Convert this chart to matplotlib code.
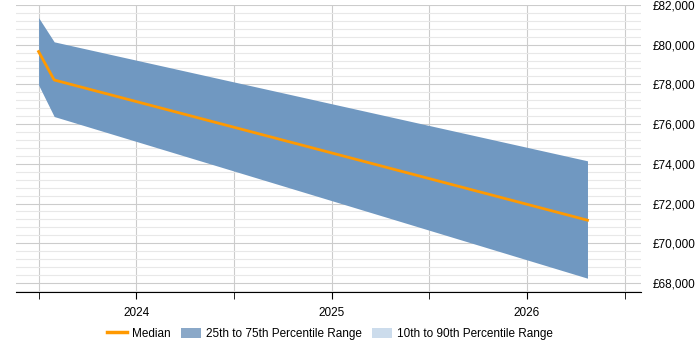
"""Salary trend chart: median with 25th-75th percentile band."""
import matplotlib

matplotlib.use("Agg")
import matplotlib.pyplot as plt  # noqa: E402
from matplotlib.lines import Line2D  # noqa: E402
from matplotlib.patches import Patch  # noqa: E402
from matplotlib.ticker import FuncFormatter, MultipleLocator  # noqa: E402

plt.rcParams["font.family"] = ["Liberation Sans", "DejaVu Sans"]

# fractional years of each data point
dates = [2023.50, 2023.58, 2026.31]
median = [79650, 78220, 71160]
p25 = [77970, 76380, 68240]
p75 = [81360, 80140, 74150]

year_ticks = [2024, 2025, 2026]
half_ticks = [2023.5, 2024.5, 2025.5, 2026.5]

BAND = "#7098c1"
MEDIAN = "#ff9900"
WIDE = "#ccdcec"

fig = plt.figure(figsize=(7, 3.5), dpi=100)
ax = fig.add_axes([0.023, 0.166, 0.893, 0.82])

ax.fill_between(dates, p25, p75, color=BAND, linewidth=0, zorder=2)
ax.plot(dates, median, color=MEDIAN, linewidth=2, zorder=3)

ax.set_xlim(2023.385, 2026.585)
ax.set_ylim(67550, 82000)

ax.set_xticks(year_ticks)
ax.set_xticklabels([str(y) for y in year_ticks])
ax.set_xticks(half_ticks, minor=True)
ax.tick_params(axis="x", which="both", length=5, color="black",
               labelsize=8.5, pad=6)
ax.grid(True, axis="x", which="both", color="#cccccc", linewidth=0.8, zorder=0)

ax.yaxis.set_major_locator(MultipleLocator(2000))
ax.yaxis.set_minor_locator(MultipleLocator(400))
ax.yaxis.set_major_formatter(FuncFormatter(lambda v, _: f"£{v:,.0f}"))
ax.yaxis.tick_right()
ax.tick_params(axis="y", which="both", length=0, labelsize=8.5, pad=8)
ax.grid(True, axis="y", which="major", color="#cccccc", linewidth=0.8, zorder=0)
ax.grid(True, axis="y", which="minor", color="#e8e8e8", linewidth=0.8, zorder=0)
ax.set_axisbelow(True)

for side in ("top", "left", "right"):
    ax.spines[side].set_visible(False)
ax.spines["bottom"].set_color("black")

handles = [
    Line2D([0], [0], color=MEDIAN, linewidth=2.5),
    Patch(facecolor="#8aa8c8", edgecolor="none"),
    Patch(facecolor=WIDE, edgecolor="none"),
]
labels = ["Median", "25th to 75th Percentile Range",
          "10th to 90th Percentile Range"]
fig.legend(handles, labels, loc="center", bbox_to_anchor=(0.471, 0.046),
           ncol=3, frameon=False, fontsize=8.5, handlelength=1.7,
           handleheight=0.95, handletextpad=0.42, columnspacing=0.85)

fig.savefig("out.png", dpi=100)
